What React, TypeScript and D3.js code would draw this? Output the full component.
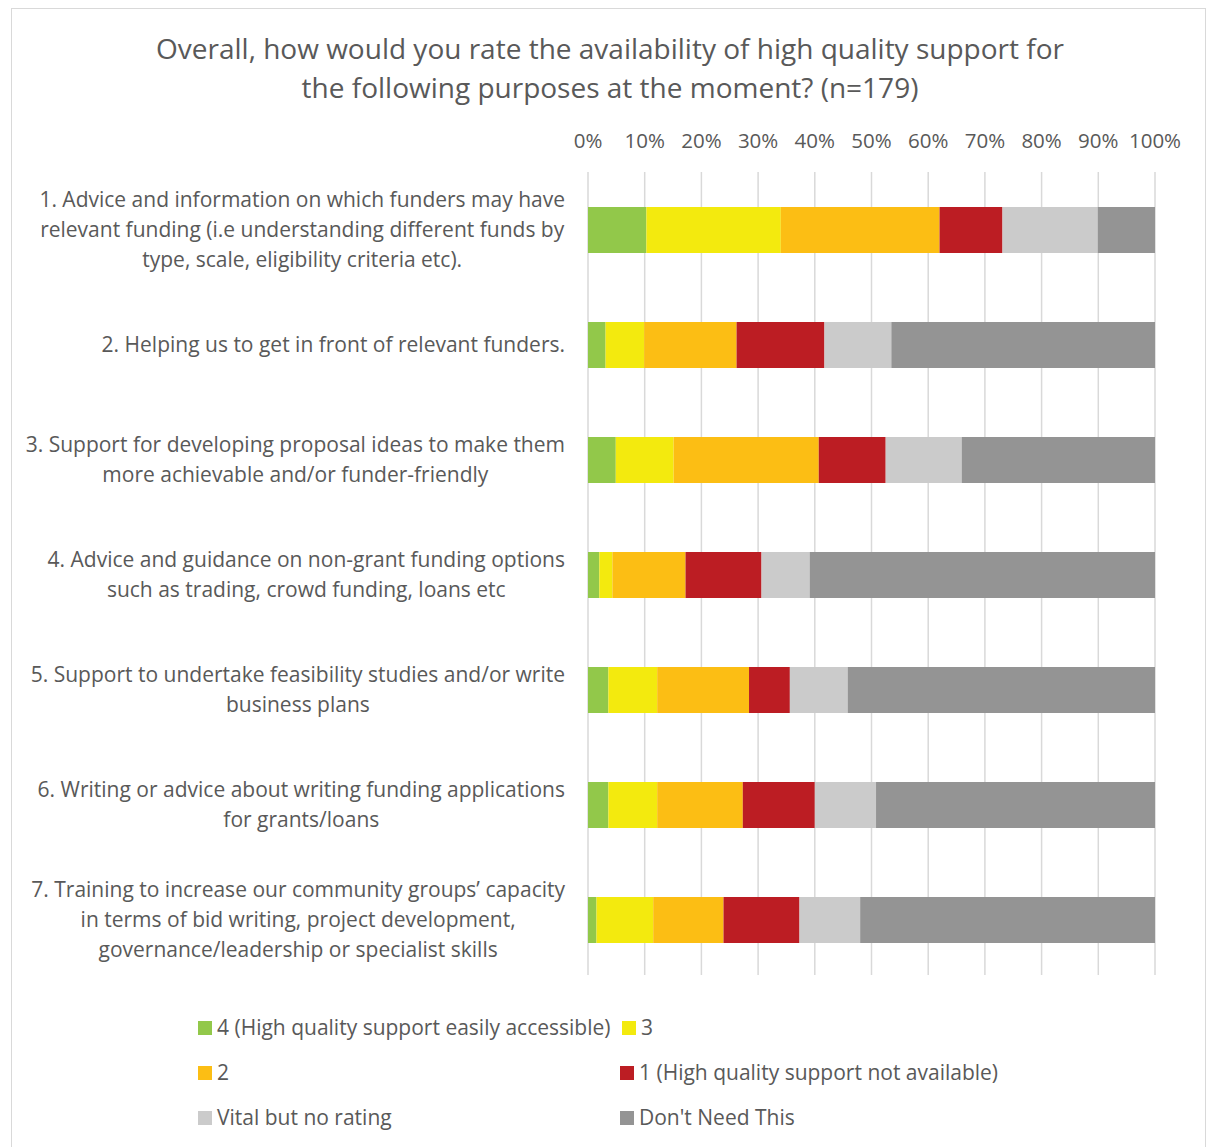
import React from "react";
import * as d3 from "d3";

const categories: string[][] = [
  ["1. Advice and information on which funders may have", "relevant funding (i.e understanding different funds by", "type, scale, eligibility criteria etc)."],
  ["2. Helping us to get in front of relevant funders."],
  ["3. Support for developing proposal ideas to make them", "more achievable and/or funder-friendly"],
  ["4. Advice and guidance on non-grant funding options", "such as trading, crowd funding, loans etc"],
  ["5. Support to undertake feasibility studies and/or write", "business plans"],
  ["6. Writing or advice about writing funding applications", "for grants/loans"],
  ["7. Training to increase our community groups\u2019 capacity", "in terms of bid writing, project development,", "governance/leadership or specialist skills"],
];

const seriesNames = [
  "4 (High quality support easily accessible)",
  "3",
  "2",
  "1 (High quality support not available)",
  "Vital but no rating",
  "Don't Need This",
];
const seriesColors = ["#92C84A", "#F3EA0E", "#FCBE14", "#BC1D23", "#CBCBCB", "#949494"];

const rating4 = [10.3, 3.1, 4.9, 2.0, 3.6, 3.6, 1.5];
const rating3 = [23.7, 6.8, 10.2, 2.3, 8.6, 8.6, 10.0];
const rating2 = [28.0, 16.3, 25.6, 12.9, 16.2, 15.1, 12.4];
const rating1 = [11.1, 15.5, 11.8, 13.4, 7.2, 12.7, 13.4];
const vitalNoRating = [16.8, 11.8, 13.4, 8.5, 10.2, 10.8, 10.7];
const dontNeed = [10.1, 46.5, 34.1, 60.9, 54.2, 49.2, 52.0];

const ticks = [0, 10, 20, 30, 40, 50, 60, 70, 80, 90, 100];

const W = 1206;
const H = 1147;
const FONT = "'Open Sans', sans-serif";
const TEXT = "#595959";
const CAT_SIZE = 21;

let measureCtx: CanvasRenderingContext2D | null = null;
function measure(text: string, size: number): number {
  if (!measureCtx) {
    const c = document.createElement("canvas");
    measureCtx = c.getContext("2d");
  }
  if (!measureCtx) return text.length * size * 0.5;
  measureCtx.font = `${size}px 'Open Sans', sans-serif`;
  return measureCtx.measureText(text).width;
}

export default function App() {
  const series = [rating4, rating3, rating2, rating1, vitalNoRating, dontNeed];
  const x = d3.scaleLinear().domain([0, 100]).range([588, 1155]);
  const y = d3
    .scaleBand<number>()
    .domain(d3.range(categories.length))
    .range([172.5, 977.5])
    .paddingInner(0.6)
    .paddingOuter(0.3);

  const rows = categories.map((_, i) => {
    let acc = 0;
    return series.map((s, k) => {
      const x0 = acc;
      acc += s[i];
      return { k, x0, x1: acc };
    });
  });

  const legendPos = [
    { x: 198, y: 1028 },
    { x: 622, y: 1028 },
    { x: 198, y: 1073 },
    { x: 620, y: 1073 },
    { x: 198, y: 1118 },
    { x: 620, y: 1118 },
  ];

  const labelRight = 565;

  return (
    <svg
      width={W}
      height={H}
      style={{ position: "absolute", left: 0, top: 0, background: "#fff" }}
      fontFamily={FONT}
    >
      <rect x={11.5} y={8.5} width={W - 12} height={H - 8} fill="#fff" stroke="#D9D9D9" />
      <text x={610} y={59} textAnchor="middle" fontSize={28} fill={TEXT}>
        Overall, how would you rate the availability of high quality support for
      </text>
      <text x={610} y={98} textAnchor="middle" fontSize={28} fill={TEXT}>
        the following purposes at the moment? (n=179)
      </text>
      {ticks.map((t) => (
        <g key={t}>
          <line x1={x(t)} x2={x(t)} y1={172} y2={975} stroke="#D9D9D9" strokeWidth={1.5} />
          <text x={x(t)} y={148} textAnchor="middle" fontSize={20.5} fill={TEXT}>
            {t}%
          </text>
        </g>
      ))}
      {rows.map((segs, i) => (
        <g key={i}>
          {segs.map((s) => (
            <rect
              key={s.k}
              x={x(s.x0)}
              y={y(i)!}
              width={x(s.x1) - x(s.x0)}
              height={y.bandwidth()}
              fill={seriesColors[s.k]}
            />
          ))}
        </g>
      ))}
      {categories.map((lines, i) => {
        const cy = y(i)! + y.bandwidth() / 2;
        const start = cy - ((lines.length - 1) * 30) / 2;
        const maxW = d3.max(lines, (l) => measure(l, CAT_SIZE)) || 0;
        const cx = labelRight - maxW / 2;
        return (
          <g key={i}>
            {lines.map((l, j) => (
              <text
                key={j}
                x={cx}
                y={start + j * 30}
                dy="0.35em"
                textAnchor="middle"
                fontSize={CAT_SIZE}
                fill={TEXT}
              >
                {l}
              </text>
            ))}
          </g>
        );
      })}
      {seriesNames.map((n, k) => (
        <g key={k}>
          <rect x={legendPos[k].x} y={legendPos[k].y - 7} width={14} height={14} fill={seriesColors[k]} />
          <text x={legendPos[k].x + 19} y={legendPos[k].y} dy="0.35em" fontSize={21} fill={TEXT}>
            {n}
          </text>
        </g>
      ))}
    </svg>
  );
}
